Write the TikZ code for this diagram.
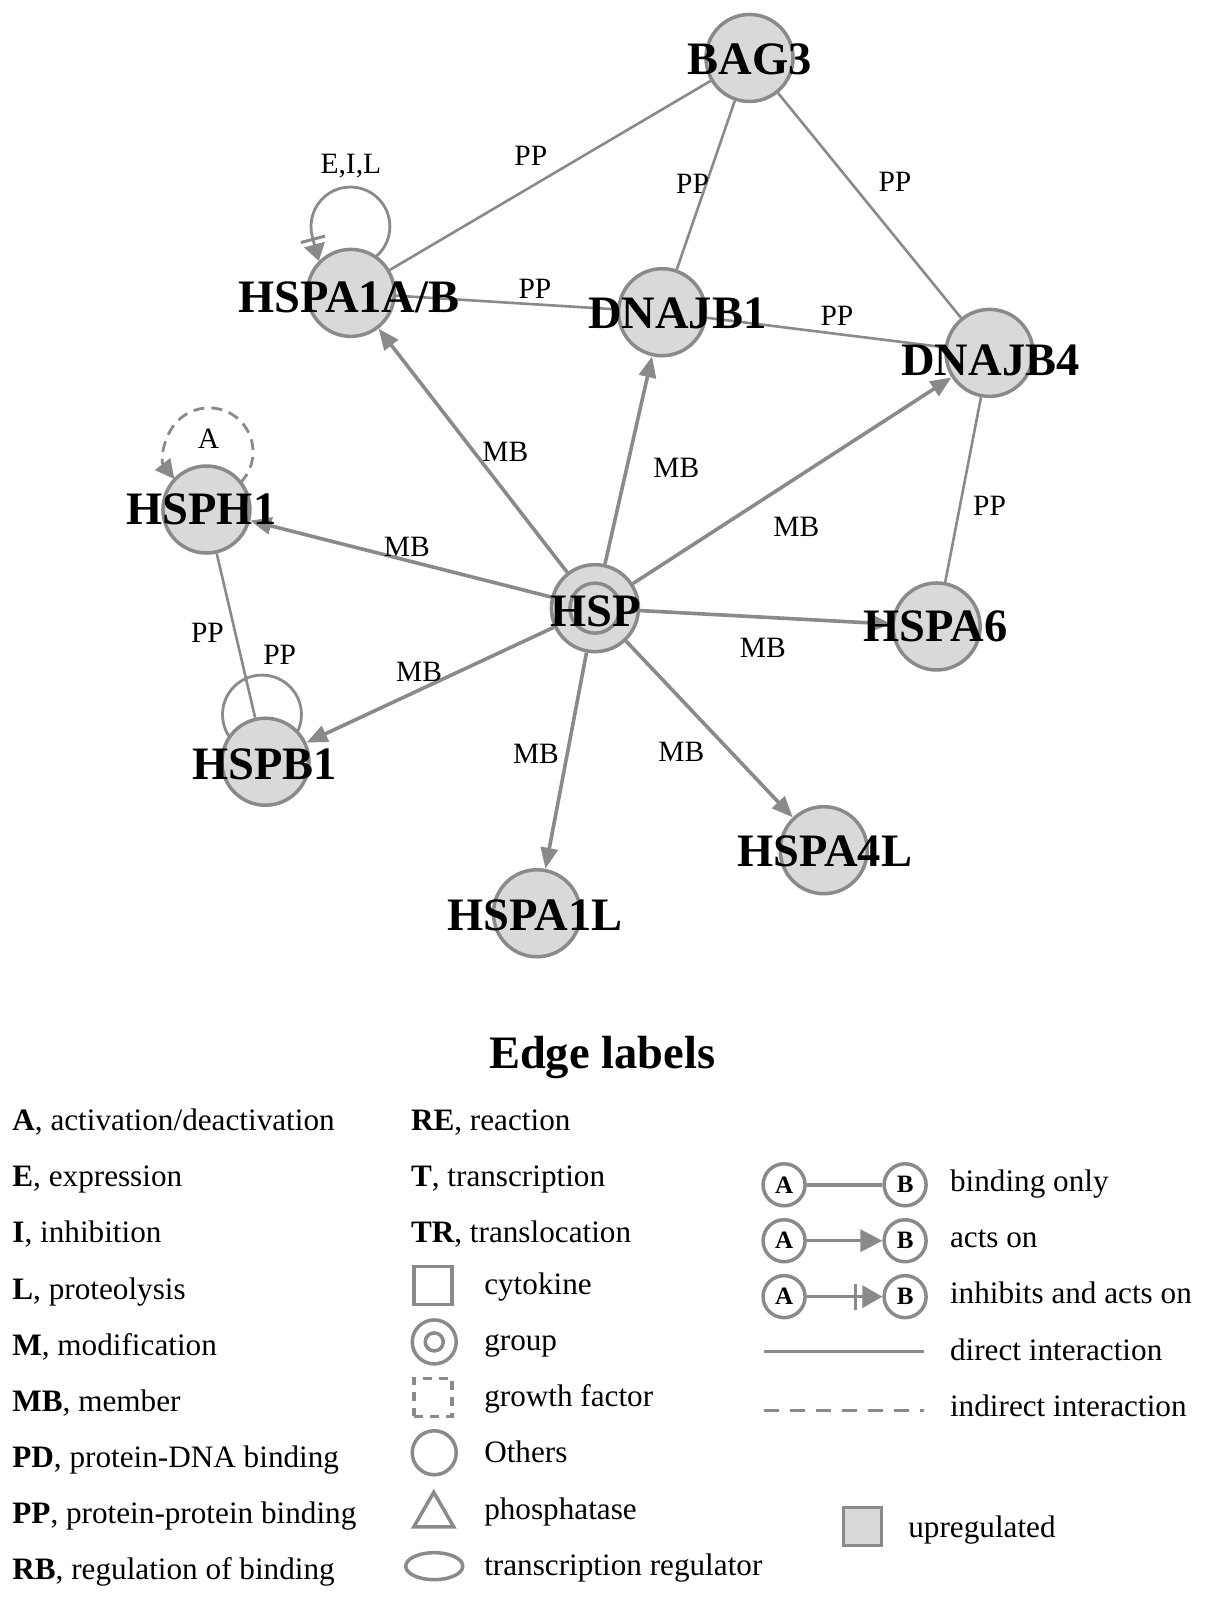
\documentclass[tikz,border=0pt]{standalone}
\usepackage{fontspec}
\setmainfont{Liberation Serif}
\usetikzlibrary{arrows.meta,shapes.geometric}
\definecolor{eg}{RGB}{138,138,138}
\definecolor{nf}{RGB}{217,217,217}
\begin{document}
\begin{tikzpicture}[x=1.017pt,y=-1.017pt,
  gn/.style={circle, draw=eg, fill=nf, line width=3.5pt, minimum size=87pt, inner sep=0pt},
  lab/.style={font=\fontsize{46.5}{50}\selectfont\bfseries, anchor=base, inner sep=0pt},
  el/.style={font=\fontsize{29.5}{32}\selectfont, inner sep=0pt},
  pp/.style={draw=eg, line width=2.6pt},
  mb/.style={draw=eg, line width=3.6pt, -{Triangle[length=21pt,width=17pt]}},
  loopline/.style={draw=eg, line width=2.8pt},
  lt/.style={font=\fontsize{31.2}{36}\selectfont, anchor=base west, inner sep=0pt},
  sym/.style={draw=eg, line width=3.5pt, inner sep=0pt},
  ab/.style={circle, draw=eg, fill=white, line width=3.5pt, minimum size=42pt, inner sep=0pt, font=\fontsize{25}{25}\selectfont\bfseries},
  lgl/.style={draw=eg, line width=3.5pt}
]
\fill[white] (0,0) rectangle (1185,1572.3);
\useasboundingbox (0,0) rectangle (1185,1572.3);

% centres
\coordinate (cBAG) at (737,57);
\coordinate (cHSPA) at (345,288);
\coordinate (cDB1) at (651,307);
\coordinate (cDB4) at (973,347);
\coordinate (cHSPH) at (203,501);
\coordinate (cHSP) at (585,598);
\coordinate (cHA6) at (921,616);
\coordinate (cHSPB) at (261,749);
\coordinate (cHA4L) at (810,836);
\coordinate (cHA1L) at (528,898);

% self loop of HSPB1 (behind its node)
\draw[loopline] (cHSPB) ++(-3.4,-46.4) circle[radius=38.8];

% nodes
\node[gn] (bag3) at (cBAG) {};
\node[gn] (hspa) at (cHSPA) {};
\node[gn] (db1) at (cDB1) {};
\node[gn] (db4) at (cDB4) {};
\node[gn] (hsph) at (cHSPH) {};
\node[gn] (hsp) at (cHSP) {};
\node[circle, draw=eg, line width=3.5pt, minimum size=50pt, inner sep=0pt] (hspin) at (cHSP) {};
\node[gn] (ha6) at (cHA6) {};
\node[gn] (hspb) at (cHSPB) {};
\node[gn] (ha4l) at (cHA4L) {};
\node[gn] (ha1l) at (cHA1L) {};

% self loops with arrow tips (from node border to node border)
\draw[loopline, -{Bar[width=25pt,line width=3pt,sep=4pt] Triangle[length=17pt,width=21pt]}]
  (cHSPA) ++(24.2,-35.3) arc[start angle=50.6, end angle=-195, radius=38.8] -- ++(6.4,23.9);
\draw[loopline, dash pattern=on 11pt off 7pt, -{Triangle[length=19pt,width=19pt]}]
  (cHSPH) ++(33.4,-26.3) arc[start angle=44.5, end angle=-218, radius=43.3];

% PP edges
\draw[pp] (bag3) -- (hspa);
\draw[pp] (bag3) -- (db1);
\draw[pp] (bag3) -- (db4);
\draw[pp] (hspa) -- (db1);
\draw[pp] (db1) -- (db4);
\draw[pp] (db4) -- (ha6);
\draw[pp] (hsph) -- (hspb);

% MB edges
\draw[mb] (hsp) -- (hspa);
\draw[mb] (hsp) -- (db1);
\draw[mb] (hsp) -- (db4);
\draw[mb] (hsp) -- (hsph);
\draw[mb] (hsp) -- (ha6);
\draw[mb] (hsp) -- (hspb);
\draw[mb] (hsp) -- (ha1l);
\draw[mb] (hsp) -- (ha4l);

% node labels
\node[lab] (tBAG) at (737,73) {BAG3};
\node[lab] (tHSPA) at (343,307) {HSPA1A/B};
\node[lab] (tDB1) at (666,323) {DNAJB1};
\node[lab] (tDB4) at (974,369) {DNAJB4};
\node[lab] (tHSPH) at (198,516) {HSPH1};
\node[lab] (tHSP) at (586,616) {HSP};
\node[lab] (tHA6) at (920,631) {HSPA6};
\node[lab] (tHSPB) at (260,766) {HSPB1};
\node[lab] (tHA4L) at (811,852) {HSPA4L};
\node[lab] (tHA1L) at (526,915) {HSPA1L};

% edge labels
\node[el] (e1) at (522,153) {PP};
\node[el] (e2) at (681,181) {PP};
\node[el] (e3) at (880,179) {PP};
\node[el] (e4) at (526,284) {PP};
\node[el] (e5) at (823,311) {PP};
\node[el] (e6) at (973,497) {PP};
\node[el] (e7) at (204,622) {PP};
\node[el] (e8) at (275,644) {PP};
\node[el] (e9) at (345,163) {E,I,L};
\node[el] (e10) at (205,431) {A};
\node[el] (m1) at (497,444) {MB};
\node[el] (m2) at (665,460) {MB};
\node[el] (m3) at (783,518) {MB};
\node[el] (m4) at (400,538) {MB};
\node[el] (m5) at (750,637) {MB};
\node[el] (m6) at (412,661) {MB};
\node[el] (m7) at (527,741) {MB};
\node[el] (m8) at (670,739) {MB};

% legend title
\node[font=\fontsize{46.5}{50}\selectfont\bfseries, anchor=base, inner sep=0pt] (title) at (592,1051) {Edge labels};

% column 1
\node[lt] (a1) at (12,1112) {\textbf{A}, activation/deactivation};
\node[lt] (a2) at (12,1167) {\textbf{E}, expression};
\node[lt] (a3) at (12,1222) {\textbf{I}, inhibition};
\node[lt] (a4) at (12,1278) {\textbf{L}, proteolysis};
\node[lt] (a5) at (12,1333) {\textbf{M}, modification};
\node[lt] (a6) at (12,1388) {\textbf{MB}, member};
\node[lt] (a7) at (12,1443) {\textbf{PD}, protein-DNA binding};
\node[lt] (a8) at (12,1498) {\textbf{PP}, protein-protein binding};
\node[lt] (a9) at (12,1553) {\textbf{RB}, regulation of binding};

% column 2
\node[lt] (b1) at (404,1112) {\textbf{RE}, reaction};
\node[lt] (b2) at (404,1167) {\textbf{T}, transcription};
\node[lt] (b3) at (404,1222) {\textbf{TR}, translocation};
\node[sym, rectangle, minimum size=38pt] (s1) at (426,1264) {};
\node[sym, circle, minimum size=44pt] (s2) at (427,1319.5) {};
\node[sym, circle, minimum size=18pt] (s2i) at (427,1319.5) {};
\node[sym, rectangle, minimum size=38pt, dash pattern=on 9pt off 7pt] (s3) at (426,1374) {};
\node[sym, circle, minimum size=44pt] (s4) at (427,1428.5) {};
\node[sym, regular polygon, regular polygon sides=3, minimum size=46pt] (s5) at (426.5,1490) {};
\node[sym, ellipse, minimum width=57pt, minimum height=27pt] (s6) at (427,1540) {};
\node[lt] (c1) at (476,1273) {cytokine};
\node[lt] (c2) at (476,1328) {group};
\node[lt] (c3) at (476,1383) {growth factor};
\node[lt] (c4) at (476,1438) {Others};
\node[lt] (c5) at (476,1494) {phosphatase};
\node[lt] (c6) at (476,1549) {transcription regulator};

% column 3
\node[ab] (A1) at (771,1165) {A};
\node[ab] (B1) at (890,1165) {B};
\draw[lgl] (A1) -- (B1);
\node[ab] (A2) at (771,1220) {A};
\node[ab] (B2) at (890,1220) {B};
\draw[lgl, -{Triangle[length=22pt,width=22pt]}] (A2) -- (B2);
\node[ab] (A3) at (771,1275) {A};
\node[ab] (B3) at (890,1275) {B};
\draw[lgl, -{Bar[width=26pt,sep=5pt] Triangle[length=20pt,width=22pt]}] (A3) -- (B3);
\coordinate (d1) at (751,1329);
\coordinate (d2) at (909,1329);
\draw[lgl] (d1) -- (d2);
\coordinate (i1) at (751,1387);
\coordinate (i2) at (909,1387);
\draw[lgl, dash pattern=on 15pt off 11pt] (i1) -- (i2);
\node[lt] (g1) at (934,1172) {binding only};
\node[lt] (g2) at (934,1227) {acts on};
\node[lt] (g3) at (934,1282) {inhibits and acts on};
\node[lt] (g4) at (934,1338) {direct interaction};
\node[lt] (g5) at (934,1393) {indirect interaction};
\node[sym, rectangle, fill=nf, minimum size=38pt] (up) at (848,1501) {};
\node[lt] (g6) at (893,1512) {upregulated};
\end{tikzpicture}
\end{document}
